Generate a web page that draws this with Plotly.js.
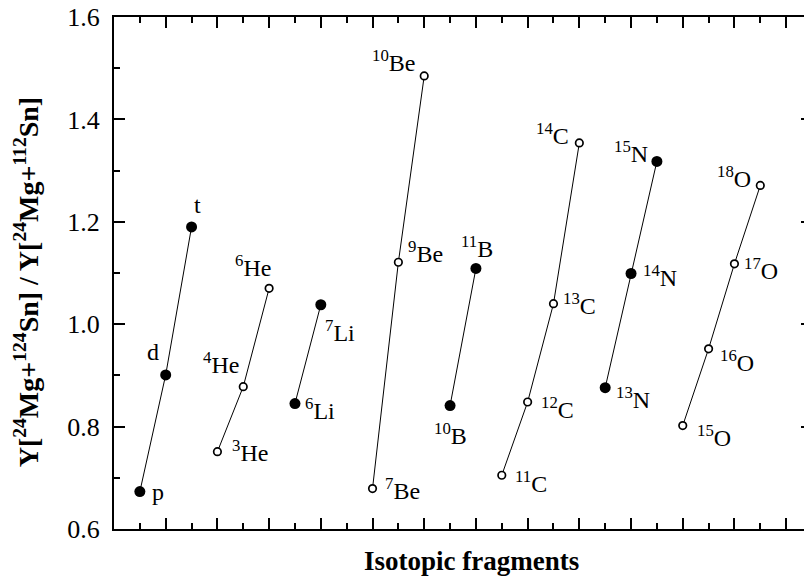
<!DOCTYPE html>
<html>
<head>
<meta charset="utf-8">
<script src="https://cdn.plot.ly/plotly-3.0.1.min.js"></script>
<style>
html, body { margin: 0; padding: 0; overflow: hidden; background: #fff; }
#chart { width: 830px; height: 578px; }
</style>
</head>
<body>
<div id="chart"></div>
<script>
// Fragment labels (in plotting order)
const fragmentLabels = ['p', 'd', 't',
  '<sup>3</sup>He', '<sup>4</sup>He', '<sup>6</sup>He',
  '<sup>6</sup>Li', '<sup>7</sup>Li',
  '<sup>7</sup>Be', '<sup>9</sup>Be', '<sup>10</sup>Be',
  '<sup>10</sup>B', '<sup>11</sup>B',
  '<sup>11</sup>C', '<sup>12</sup>C', '<sup>13</sup>C', '<sup>14</sup>C',
  '<sup>13</sup>N', '<sup>14</sup>N', '<sup>15</sup>N',
  '<sup>15</sup>O', '<sup>16</sup>O', '<sup>17</sup>O', '<sup>18</sup>O'];
// Element group of each fragment
const fragmentGroup = ['H', 'H', 'H', 'He', 'He', 'He', 'Li', 'Li', 'Be', 'Be', 'Be',
  'B', 'B', 'C', 'C', 'C', 'C', 'N', 'N', 'N', 'O', 'O', 'O', 'O'];
// Position along the (unlabelled) x axis
const fragmentPos = [1, 2, 3, 4, 5, 6, 7, 8, 10, 11, 12, 13, 14, 15, 16, 17, 18, 19, 20, 21, 22, 23, 24, 25];
// Yield ratio Y[24Mg+124Sn] / Y[24Mg+112Sn]
const yieldRatio = [0.673, 0.901, 1.190,
  0.751, 0.878, 1.070,
  0.845, 1.038,
  0.679, 1.121, 1.485,
  0.841, 1.109,
  0.705, 0.848, 1.040, 1.354,
  0.876, 1.099, 1.318,
  0.802, 0.952, 1.118, 1.271];
// Groups drawn with filled symbols (others open)
const filledGroups = ['H', 'Li', 'B', 'N'];
const groupOrder = ['H', 'He', 'Li', 'Be', 'B', 'C', 'N', 'O'];
// Axis titles
const xTitle = '<b>Isotopic fragments</b>';
const yTitle = '<b>Y[<sup>24</sup>Mg+<sup>124</sup>Sn] / Y[<sup>24</sup>Mg+<sup>112</sup>Sn]</b>';

// Label offsets in pixels (style only)
const labelDx = [18, -13, 6, 33, -22, -16, 25, 19, 30, 27, -31, 0, 1, 29, 30, 26, -27, 28, 29, -26, 31, 28, 27, -26];
const labelDy = [0, 23, 22, 1, 24, 22, -5, -26, 0, 10, 15, -28, 21, -7, -6, 0, 9, -10, -2, 9, -10, -12, -5, 8];

const FONT = 'Liberation Serif, Times New Roman, serif';

const traces = groupOrder.map(g => {
  const idx = fragmentGroup.map((v, i) => v === g ? i : -1).filter(i => i >= 0);
  const filled = filledGroups.includes(g);
  return {
    type: 'scatter',
    mode: 'lines+markers',
    x: idx.map(i => fragmentPos[i]),
    y: idx.map(i => yieldRatio[i]),
    line: { color: '#000', width: 1 },
    marker: filled
      ? { symbol: 'circle', size: 11, color: '#000', line: { width: 0 } }
      : { symbol: 'circle', size: 7.5, color: '#fff', line: { color: '#000', width: 1.7 } },
    showlegend: false,
    hoverinfo: 'skip',
    cliponaxis: false
  };
});

const annotations = fragmentLabels.map((t, i) => ({
  x: fragmentPos[i], y: yieldRatio[i], xref: 'x', yref: 'y',
  text: t, showarrow: false,
  xanchor: 'center', yanchor: 'middle',
  xshift: labelDx[i], yshift: labelDy[i],
  font: { family: FONT, size: 24, color: '#000' }
}));

annotations.push({
  xref: 'paper', yref: 'paper', x: 0.5115, y: -0.0625,
  xanchor: 'center', yanchor: 'middle', showarrow: false,
  text: xTitle, font: { family: FONT, size: 27, color: '#000' }
});
annotations.push({
  xref: 'paper', yref: 'paper', x: -0.126, y: 0.482,
  xanchor: 'center', yanchor: 'middle', showarrow: false, textangle: -90,
  text: yTitle, font: { family: FONT, size: 28, color: '#000' }
});

const layout = {
  width: 830, height: 578,
  margin: { l: 114, r: 18, t: 17, b: 49, pad: 0 },
  paper_bgcolor: '#fff', plot_bgcolor: '#fff',
  font: { family: FONT, color: '#000' },
  xaxis: {
    range: [0, 27], autorange: false,
    showgrid: false, zeroline: false,
    showline: true, linecolor: '#000', linewidth: 2, mirror: 'ticks',
    ticks: 'inside', tickmode: 'linear', tick0: 0, dtick: 2,
    ticklen: 11, tickwidth: 2, tickcolor: '#000',
    minor: { ticks: 'inside', dtick: 1, tick0: 0, ticklen: 6, tickwidth: 2, tickcolor: '#000', showgrid: false },
    showticklabels: false
  },
  yaxis: {
    range: [0.6, 1.6], autorange: false,
    showgrid: false, zeroline: false,
    showline: true, linecolor: '#000', linewidth: 2, mirror: 'ticks',
    ticks: 'inside', tickmode: 'linear', tick0: 0.6, dtick: 0.2,
    ticklen: 11, tickwidth: 2, tickcolor: '#000',
    minor: { ticks: 'inside', dtick: 0.1, ticklen: 6, tickwidth: 2, tickcolor: '#000', showgrid: false },
    tickformat: '.1f',
    tickfont: { family: FONT, size: 26, color: '#000' },
    ticklabelstandoff: 7
  },
  annotations: annotations
};

Plotly.newPlot('chart', traces, layout, { displayModeBar: false, staticPlot: true });
</script>
</body>
</html>
